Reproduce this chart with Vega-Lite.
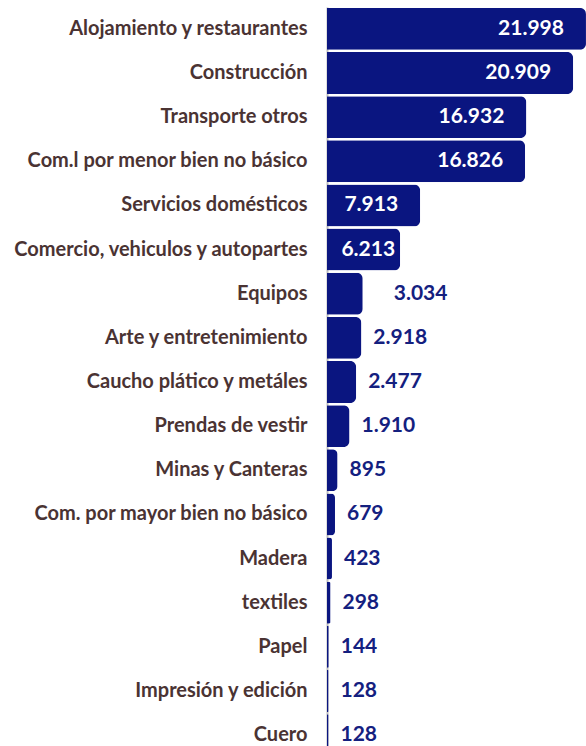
{
  "$schema": "https://vega.github.io/schema/vega-lite/v6.json",
  "width": 259,
  "height": 750,
  "autosize": {"type": "none"},
  "padding": {"left": 327, "top": 7, "right": 0, "bottom": 0},
  "background": "white",
  "data": {
    "values": [
      {"sector": "Alojamiento y restaurantes", "valor": 21998},
      {"sector": "Construcción", "valor": 20909},
      {"sector": "Transporte otros", "valor": 16932},
      {"sector": "Com.l por menor bien no básico", "valor": 16826},
      {"sector": "Servicios domésticos", "valor": 7913},
      {"sector": "Comercio, vehiculos y autopartes", "valor": 6213},
      {"sector": "Equipos", "valor": 3034},
      {"sector": "Arte y entretenimiento", "valor": 2918},
      {"sector": "Caucho plático y metáles", "valor": 2477},
      {"sector": "Prendas de vestir", "valor": 1910},
      {"sector": "Minas y Canteras", "valor": 895},
      {"sector": "Com. por mayor bien no básico", "valor": 679},
      {"sector": "Madera", "valor": 423},
      {"sector": "textiles", "valor": 298},
      {"sector": "Papel", "valor": 144},
      {"sector": "Impresión y edición", "valor": 128},
      {"sector": "Cuero", "valor": 128}
    ]
  },
  "encoding": {
    "y": {
      "field": "sector",
      "type": "nominal",
      "sort": null,
      "scale": {"paddingInner": 0.05, "paddingOuter": 0.02},
      "axis": {
        "title": null,
        "ticks": false,
        "domain": true,
        "domainColor": "#bfbfbf",
        "domainWidth": 2,
        "labelPadding": 20,
        "labelFont": "Lato",
        "labelFontSize": 20,
        "labelFontWeight": "bold",
        "labelColor": "#4a3333",
        "labelLimit": 400
      }
    },
    "x": {
      "field": "valor",
      "type": "quantitative",
      "scale": {"domain": [0, 22000]},
      "axis": null
    }
  },
  "layer": [
    {
      "mark": {"type": "bar", "color": "#0a1580", "cornerRadiusEnd": 6}
    },
    {
      "transform": [{"filter": "datum.valor >= 7000"}],
      "mark": {"type": "text", "align": "right", "dx": -22, "font": "Lato", "fontSize": 21, "fontWeight": "bold", "color": "white"},
      "encoding": {"text": {"field": "valor", "type": "quantitative", "format": ",d"}}
    },
    {
      "transform": [{"filter": "datum.valor >= 5000 && datum.valor < 7000"}],
      "mark": {"type": "text", "align": "right", "dx": -5, "font": "Lato", "fontSize": 21, "fontWeight": "bold", "color": "white"},
      "encoding": {"text": {"field": "valor", "type": "quantitative", "format": ",d"}}
    },
    {
      "transform": [{"filter": "datum.valor >= 3000 && datum.valor < 5000"}],
      "mark": {"type": "text", "align": "left", "dx": 31, "font": "Lato", "fontSize": 21, "fontWeight": "bold", "color": "#14207f"},
      "encoding": {"text": {"field": "valor", "type": "quantitative", "format": ",d"}}
    },
    {
      "transform": [{"filter": "datum.valor < 3000"}],
      "mark": {"type": "text", "align": "left", "dx": 12, "font": "Lato", "fontSize": 21, "fontWeight": "bold", "color": "#14207f"},
      "encoding": {"text": {"field": "valor", "type": "quantitative", "format": ",d"}}
    }
  ],
  "config": {
    "view": {"stroke": null},
    "locale": {"number": {"decimal": ",", "thousands": ".", "grouping": [3], "currency": ["$", ""]}}
  }
}
